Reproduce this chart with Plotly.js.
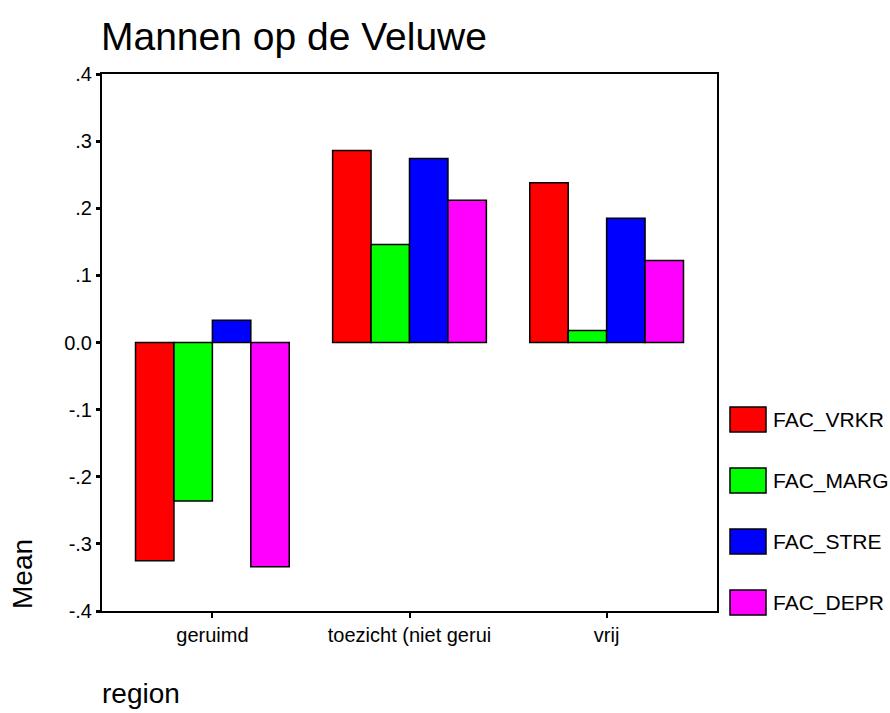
<!DOCTYPE html>
<html>
<head>
<meta charset="utf-8">
<script src="https://cdn.plot.ly/plotly-3.0.1.min.js"></script>
<style>html,body{margin:0;padding:0;background:#fff;}#chart{width:890px;height:713px;}</style>
</head>
<body>
<div id="chart"></div>
<script>
const categories = ["geruimd", "toezicht (niet gerui", "vrij"];
const seriesNames = ["FAC_VRKR", "FAC_MARG", "FAC_STRE", "FAC_DEPR"];
const FAC_VRKR = [-0.325, 0.286, 0.238];
const FAC_MARG = [-0.236, 0.146, 0.018];
const FAC_STRE = [0.033, 0.274, 0.185];
const FAC_DEPR = [-0.334, 0.212, 0.122];
const seriesValues = [FAC_VRKR, FAC_MARG, FAC_STRE, FAC_DEPR];
const seriesColors = ["#ff0000", "#00ff00", "#0000ff", "#ff00ff"];
const yTickVals = [-0.4, -0.3, -0.2, -0.1, 0, 0.1, 0.2, 0.3, 0.4];
const yTickText = ["-.4", "-.3", "-.2", "-.1", "0.0", ".1", ".2", ".3", ".4"];

const font = "Liberation Sans, Arial, sans-serif";
const W = 890, H = 713;
const M = {l: 102, r: 173, t: 74, b: 102};
const PW = W - M.l - M.r, PH = H - M.t - M.b;
const px2x = px => (px - M.l) / PW;
const px2y = py => (H - M.b - py) / PH;

const traces = seriesNames.map((n, i) => ({
  type: "bar",
  name: n,
  x: categories,
  y: seriesValues[i],
  marker: {color: seriesColors[i], line: {color: "#000", width: 1.5}},
  hoverinfo: "x+y+name",
  showlegend: false
}));

// legend drawn as boxes + text, built from the series arrays
const shapes = [], annotations = [];
seriesNames.forEach((n, i) => {
  const top = 407 + i * 61;
  shapes.push({type: "rect", xref: "paper", yref: "paper",
    x0: px2x(730), x1: px2x(766), y0: px2y(top + 25), y1: px2y(top),
    fillcolor: seriesColors[i], line: {color: "#000", width: 1.5}});
  annotations.push({text: n, xref: "paper", yref: "paper",
    x: px2x(771), y: px2y(top + 12.5), xanchor: "left", yanchor: "middle",
    showarrow: false, font: {family: font, size: 21, color: "#000"}});
});
annotations.push(
  {text: "Mean", xref: "paper", yref: "paper", x: px2x(22), y: px2y(611),
   xanchor: "center", yanchor: "bottom", textangle: -90, showarrow: false,
   font: {family: font, size: 28, color: "#000"}},
  {text: "region", xref: "paper", yref: "paper", x: px2x(100), y: px2y(694),
   xanchor: "left", yanchor: "middle", showarrow: false,
   font: {family: font, size: 28, color: "#000"}}
);

const layout = {
  width: W, height: H,
  margin: M,
  paper_bgcolor: "#fff", plot_bgcolor: "#fff",
  font: {family: font, size: 20, color: "#000"},
  barmode: "group", bargap: 0.22, bargroupgap: 0,
  showlegend: false,
  title: {text: "Mannen op de Veluwe", font: {family: font, size: 39, color: "#000"},
          xref: "container", x: 101/W, xanchor: "left",
          yref: "container", y: 1 - 36/H, yanchor: "middle"},
  xaxis: {
    type: "category", range: [-0.56, 2.56],
    showline: true, linecolor: "#000", linewidth: 2, mirror: true,
    ticks: "outside", ticklen: 5, tickwidth: 2, tickcolor: "#000",
    showgrid: false, zeroline: false,
    tickfont: {family: font, size: 20, color: "#000"}
  },
  yaxis: {
    range: [-0.4, 0.4], tickvals: yTickVals, ticktext: yTickText,
    showline: true, linecolor: "#000", linewidth: 2, mirror: true,
    ticks: "outside", ticklen: 4, tickwidth: 3, tickcolor: "#000",
    showgrid: false, zeroline: false,
    tickfont: {family: font, size: 20, color: "#000"}
  },
  shapes: shapes,
  annotations: annotations
};

Plotly.newPlot("chart", traces, layout, {displayModeBar: false, staticPlot: true});
</script>
</body>
</html>
